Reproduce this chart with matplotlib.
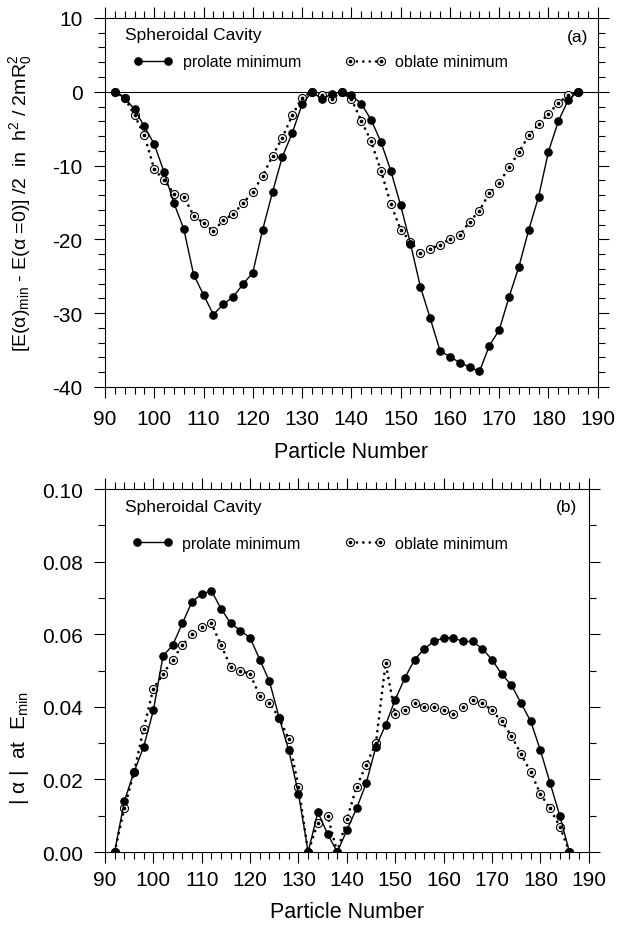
import numpy as np
import matplotlib.pyplot as plt
from matplotlib.ticker import MultipleLocator
from matplotlib.legend_handler import HandlerTuple

plt.rcParams['font.family'] = ['Liberation Sans', 'DejaVu Sans']
plt.rcParams['mathtext.fontset'] = 'custom'
plt.rcParams['mathtext.rm'] = 'Liberation Sans'
plt.rcParams['mathtext.it'] = 'Liberation Sans:italic'
plt.rcParams['axes.unicode_minus'] = False

# particle numbers
N = np.arange(92, 188, 2)

# (a) energy gain, prolate / oblate minimum
e_prolate = [0, -0.8, -2.4, -4.7, -7.1, -10.9, -15.1, -18.6, -24.8, -27.5, -30.2, -28.8,
             -27.8, -26.1, -24.5, -18.7, -13.6, -8.8, -5.6, -1.7, 0, -1.0, -0.3, 0,
             -0.5, -1.6, -3.8, -6.8, -10.7, -15.4, -20.6, -26.4, -30.7, -35.1, -35.9, -36.7,
             -37.3, -37.9, -34.4, -32.3, -27.8, -23.7, -18.7, -14.2, -8.1, -4.0, -1.1, 0]
e_oblate = [0, -0.8, -3.2, -5.9, -10.5, -12.0, -13.8, -14.2, -16.8, -17.8, -18.9, -17.4,
            -16.6, -15.1, -13.6, -11.4, -8.7, -6.2, -3.2, -0.8, 0, -0.4, -1.0, 0,
            -1.0, -3.9, -6.7, -10.7, -15.2, -18.7, -20.3, -21.9, -21.3, -20.7, -20.0, -19.4,
            -17.6, -16.1, -13.7, -12.4, -10.2, -8.2, -5.9, -4.4, -3.0, -1.5, -0.5, 0]

# (b) deformation |alpha| at the minimum
a_prolate = [0, 0.014, 0.022, 0.029, 0.039, 0.054, 0.057, 0.063, 0.069, 0.071, 0.072, 0.067,
             0.063, 0.061, 0.059, 0.053, 0.047, 0.037, 0.028, 0.016, 0, 0.011, 0.005, 0,
             0.006, 0.012, 0.019, 0.029, 0.035, 0.042, 0.048, 0.053, 0.056, 0.058, 0.059, 0.059,
             0.058, 0.058, 0.056, 0.053, 0.049, 0.046, 0.041, 0.036, 0.028, 0.019, 0.010, 0]
a_oblate = [0, 0.012, 0.022, 0.034, 0.045, 0.049, 0.053, 0.057, 0.060, 0.062, 0.063, 0.057,
            0.051, 0.050, 0.049, 0.043, 0.041, 0.037, 0.031, 0.018, 0, 0.008, 0.010, 0,
            0.009, 0.018, 0.024, 0.030, 0.052, 0.038, 0.039, 0.041, 0.040, 0.040, 0.039, 0.038,
            0.040, 0.042, 0.041, 0.039, 0.036, 0.032, 0.027, 0.022, 0.016, 0.012, 0.007, 0]

fig = plt.figure(figsize=(6.4, 9.29), dpi=100)
ax1 = fig.add_axes([0.164, 0.5824, 0.770, 0.3972])
ax2 = fig.add_axes([0.164, 0.0818, 0.756, 0.3907])

dot_ls = (0, (0.01, 2.3))


def draw(ax, yp, yo):
    ax.plot(N, yo, color='black', lw=2.0, ls=dot_ls, dash_capstyle='round', zorder=2)
    ax.plot(N, yo, ls='none', marker='o', ms=5.8, mfc='white', mec='black', mew=0.8, zorder=3)
    ax.plot(N, yo, ls='none', marker='o', ms=1.7, mfc='black', mec='black', zorder=4)
    ax.plot(N, yp, color='black', lw=1.0, marker='o', ms=5.2, zorder=5)
    # legend handles
    lp = plt.Line2D([], [], color='black', lw=1.0, marker='o', ms=5.2)
    lo1 = plt.Line2D([], [], color='black', lw=2.0, ls=dot_ls, dash_capstyle='round')
    lo2 = plt.Line2D([], [], ls='none', marker='o', ms=5.8, mfc='white', mec='black', mew=0.8)
    lo3 = plt.Line2D([], [], ls='none', marker='o', ms=1.7, color='black')
    return lp, (lo1, lo2, lo3)


def style(ax, ymaj, ymin, xpad):
    ax.set_xlim(90, 190)
    ax.xaxis.set_major_locator(MultipleLocator(10))
    ax.xaxis.set_minor_locator(MultipleLocator(2))
    ax.yaxis.set_major_locator(MultipleLocator(ymaj))
    ax.yaxis.set_minor_locator(MultipleLocator(ymin))
    ax.tick_params(which='both', direction='out', top=True, right=True, width=0.8)
    ax.tick_params(which='major', length=8)
    ax.tick_params(which='minor', length=4.8)
    ax.tick_params(axis='both', labelsize=15)
    ax.tick_params(axis='y', pad=8)
    ax.tick_params(axis='x', pad=xpad)
    for s in ax.spines.values():
        s.set_linewidth(0.8)


def add_legend(ax, lp, lo, y):
    ax.legend([lp, lo], ['prolate minimum', 'oblate minimum'], ncol=2, frameon=False,
              loc='center left', bbox_to_anchor=(0.057, y), borderpad=0, borderaxespad=0,
              numpoints=2, handlelength=2.5, handletextpad=0.6, columnspacing=2.8,
              fontsize=11.5, handler_map={tuple: HandlerTuple(ndivide=1)})


lp, lo = draw(ax1, e_prolate, e_oblate)
ax1.axhline(0, color='black', lw=0.8, zorder=1)
ax1.set_ylim(-40, 10)
style(ax1, 10, 2, 8)
ax1.set_xlabel('Particle Number', fontsize=15.5)
ax1.xaxis.set_label_coords(0.5, -0.146)
ax1.set_ylabel('[E(α)$_{\\mathrm{min}}$ - E(α =0)] /2  in  h$^2$ / 2mR$_0^2$', fontsize=14)
ax1.yaxis.label.set_verticalalignment('center')
ax1.yaxis.set_label_coords(-0.172, 0.5)
ax1.text(0.041, 0.954, 'Spheroidal Cavity', transform=ax1.transAxes, fontsize=12.5, va='center')
ax1.text(0.980, 0.951, '(a)', transform=ax1.transAxes, fontsize=12.5, va='center', ha='right')
add_legend(ax1, lp, lo, 0.881)

lp, lo = draw(ax2, a_prolate, a_oblate)
ax2.set_ylim(0, 0.10)
style(ax2, 0.02, 0.01, 5)
ax2.set_yticklabels([f'{v:.2f}' for v in ax2.get_yticks()])
ax2.set_xlabel('Particle Number', fontsize=15.5)
ax2.xaxis.set_label_coords(0.5, -0.135)
ax2.set_ylabel('| α |  at  E$_{\\mathrm{min}}$', fontsize=15)
ax2.yaxis.label.set_verticalalignment('center')
ax2.yaxis.set_label_coords(-0.176, 0.29)
ax2.text(0.041, 0.953, 'Spheroidal Cavity', transform=ax2.transAxes, fontsize=12.5, va='center')
ax2.text(0.975, 0.953, '(b)', transform=ax2.transAxes, fontsize=12.5, va='center', ha='right')
add_legend(ax2, lp, lo, 0.851)

fig.savefig('out.png', dpi=100)
